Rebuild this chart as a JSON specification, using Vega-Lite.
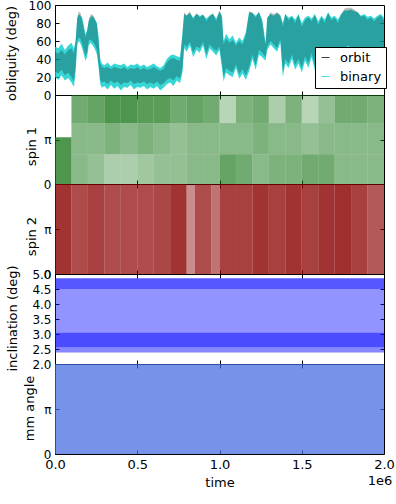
{
  "$schema": "https://vega.github.io/schema/vega-lite/v6.json",
  "padding": {"left": 4, "top": -2, "right": 0, "bottom": 0},
  "background": "white",
  "spacing": 0,
  "bounds": "flush",
  "datasets": {
    "obl": [
      {"time":0,"blo":20,"bhi":54,"olo":26,"ohi":48},{"time":20000,"blo":17,"bhi":52,"olo":24,"ohi":46},{"time":40000,"blo":22,"bhi":57,"olo":28,"ohi":50},{"time":60000,"blo":16,"bhi":50,"olo":22,"ohi":45},{"time":80000,"blo":19,"bhi":55,"olo":25,"ohi":50},{"time":100000,"blo":14,"bhi":58,"olo":20,"ohi":52},{"time":115000,"blo":9,"bhi":52,"olo":15,"ohi":46},{"time":125000,"blo":25,"bhi":60,"olo":30,"ohi":58},{"time":135000,"blo":55,"bhi":85,"olo":60,"ohi":86},{"time":145000,"blo":60,"bhi":90,"olo":64,"ohi":93},{"time":155000,"blo":57,"bhi":88,"olo":62,"ohi":91},{"time":165000,"blo":52,"bhi":86,"olo":57,"ohi":83},{"time":175000,"blo":45,"bhi":78,"olo":50,"ohi":74},{"time":185000,"blo":38,"bhi":68,"olo":43,"ohi":64},{"time":195000,"blo":42,"bhi":72,"olo":47,"ohi":70},{"time":205000,"blo":55,"bhi":82,"olo":60,"ohi":84},{"time":215000,"blo":58,"bhi":86,"olo":62,"ohi":89},{"time":225000,"blo":56,"bhi":88,"olo":60,"ohi":90},{"time":240000,"blo":52,"bhi":85,"olo":57,"ohi":86},{"time":255000,"blo":45,"bhi":80,"olo":50,"ohi":78},{"time":265000,"blo":30,"bhi":65,"olo":35,"ohi":60},{"time":275000,"blo":12,"bhi":40,"olo":17,"ohi":35},{"time":285000,"blo":8,"bhi":35,"olo":14,"ohi":31},{"time":300000,"blo":10,"bhi":33,"olo":15,"ohi":30},{"time":320000,"blo":6,"bhi":36,"olo":12,"ohi":31},{"time":340000,"blo":11,"bhi":32,"olo":16,"ohi":29},{"time":360000,"blo":7,"bhi":35,"olo":13,"ohi":31},{"time":380000,"blo":10,"bhi":34,"olo":15,"ohi":30},{"time":400000,"blo":5,"bhi":33,"olo":11,"ohi":29},{"time":420000,"blo":9,"bhi":35,"olo":14,"ohi":31},{"time":440000,"blo":8,"bhi":31,"olo":13,"ohi":28},{"time":460000,"blo":11,"bhi":34,"olo":16,"ohi":30},{"time":480000,"blo":6,"bhi":33,"olo":12,"ohi":29},{"time":500000,"blo":9,"bhi":35,"olo":14,"ohi":31},{"time":520000,"blo":8,"bhi":32,"olo":13,"ohi":28},{"time":540000,"blo":10,"bhi":34,"olo":15,"ohi":30},{"time":560000,"blo":6,"bhi":31,"olo":12,"ohi":28},{"time":580000,"blo":9,"bhi":33,"olo":14,"ohi":29},{"time":600000,"blo":7,"bhi":35,"olo":12,"ohi":31},{"time":620000,"blo":10,"bhi":32,"olo":15,"ohi":29},{"time":640000,"blo":5,"bhi":30,"olo":11,"ohi":27},{"time":660000,"blo":8,"bhi":33,"olo":13,"ohi":29},{"time":680000,"blo":12,"bhi":40,"olo":17,"ohi":36},{"time":700000,"blo":14,"bhi":44,"olo":19,"ohi":40},{"time":720000,"blo":10,"bhi":45,"olo":16,"ohi":41},{"time":740000,"blo":16,"bhi":43,"olo":21,"ohi":39},{"time":760000,"blo":13,"bhi":42,"olo":18,"ohi":38},{"time":775000,"blo":25,"bhi":70,"olo":30,"ohi":66},{"time":785000,"blo":52,"bhi":90,"olo":56,"ohi":92},{"time":800000,"blo":48,"bhi":88,"olo":53,"ohi":89},{"time":820000,"blo":55,"bhi":91,"olo":59,"ohi":93},{"time":840000,"blo":42,"bhi":86,"olo":47,"ohi":84},{"time":860000,"blo":50,"bhi":90,"olo":54,"ohi":91},{"time":880000,"blo":47,"bhi":88,"olo":52,"ohi":86},{"time":900000,"blo":55,"bhi":89,"olo":59,"ohi":90},{"time":920000,"blo":40,"bhi":85,"olo":45,"ohi":82},{"time":940000,"blo":52,"bhi":88,"olo":56,"ohi":88},{"time":960000,"blo":48,"bhi":90,"olo":52,"ohi":91},{"time":980000,"blo":44,"bhi":85,"olo":49,"ohi":82},{"time":1000000,"blo":50,"bhi":93,"olo":54,"ohi":94},{"time":1015000,"blo":30,"bhi":88,"olo":35,"ohi":86},{"time":1025000,"blo":15,"bhi":60,"olo":20,"ohi":56},{"time":1040000,"blo":25,"bhi":68,"olo":30,"ohi":63},{"time":1060000,"blo":22,"bhi":62,"olo":27,"ohi":58},{"time":1080000,"blo":20,"bhi":66,"olo":25,"ohi":61},{"time":1100000,"blo":30,"bhi":58,"olo":34,"ohi":55},{"time":1120000,"blo":18,"bhi":64,"olo":23,"ohi":60},{"time":1140000,"blo":24,"bhi":60,"olo":29,"ohi":56},{"time":1160000,"blo":17,"bhi":70,"olo":22,"ohi":66},{"time":1180000,"blo":26,"bhi":92,"olo":31,"ohi":93},{"time":1200000,"blo":40,"bhi":91,"olo":45,"ohi":92},{"time":1220000,"blo":28,"bhi":88,"olo":33,"ohi":86},{"time":1240000,"blo":45,"bhi":92,"olo":50,"ohi":93},{"time":1260000,"blo":42,"bhi":84,"olo":47,"ohi":80},{"time":1280000,"blo":38,"bhi":58,"olo":42,"ohi":55},{"time":1290000,"blo":50,"bhi":86,"olo":54,"ohi":85},{"time":1310000,"blo":56,"bhi":90,"olo":60,"ohi":92},{"time":1330000,"blo":52,"bhi":88,"olo":56,"ohi":90},{"time":1350000,"blo":48,"bhi":91,"olo":52,"ohi":92},{"time":1370000,"blo":58,"bhi":88,"olo":62,"ohi":89},{"time":1385000,"blo":20,"bhi":80,"olo":25,"ohi":76},{"time":1400000,"blo":35,"bhi":90,"olo":40,"ohi":90},{"time":1420000,"blo":30,"bhi":86,"olo":35,"ohi":83},{"time":1440000,"blo":40,"bhi":88,"olo":45,"ohi":87},{"time":1460000,"blo":28,"bhi":84,"olo":33,"ohi":80},{"time":1480000,"blo":35,"bhi":90,"olo":40,"ohi":89},{"time":1500000,"blo":25,"bhi":80,"olo":30,"ohi":76},{"time":1520000,"blo":38,"bhi":86,"olo":43,"ohi":83},{"time":1540000,"blo":30,"bhi":88,"olo":35,"ohi":86},{"time":1560000,"blo":42,"bhi":85,"olo":47,"ohi":82},{"time":1580000,"blo":27,"bhi":90,"olo":32,"ohi":89},{"time":1600000,"blo":35,"bhi":82,"olo":40,"ohi":78},{"time":1620000,"blo":40,"bhi":88,"olo":45,"ohi":86},{"time":1640000,"blo":30,"bhi":84,"olo":35,"ohi":80},{"time":1660000,"blo":25,"bhi":92,"olo":30,"ohi":91},{"time":1680000,"blo":38,"bhi":86,"olo":43,"ohi":83},{"time":1700000,"blo":32,"bhi":88,"olo":37,"ohi":86},{"time":1720000,"blo":28,"bhi":84,"olo":33,"ohi":80},{"time":1740000,"blo":40,"bhi":90,"olo":45,"ohi":90},{"time":1760000,"blo":45,"bhi":94,"olo":50,"ohi":96},{"time":1780000,"blo":50,"bhi":94,"olo":55,"ohi":97},{"time":1800000,"blo":48,"bhi":95,"olo":53,"ohi":97},{"time":1820000,"blo":46,"bhi":93,"olo":51,"ohi":95},{"time":1840000,"blo":40,"bhi":92,"olo":45,"ohi":92},{"time":1860000,"blo":35,"bhi":88,"olo":40,"ohi":87},{"time":1880000,"blo":30,"bhi":90,"olo":35,"ohi":88},{"time":1900000,"blo":28,"bhi":87,"olo":33,"ohi":84},{"time":1920000,"blo":25,"bhi":88,"olo":30,"ohi":86},{"time":1940000,"blo":32,"bhi":85,"olo":37,"ohi":82},{"time":1960000,"blo":24,"bhi":88,"olo":29,"ohi":86},{"time":1980000,"blo":30,"bhi":90,"olo":35,"ohi":88},{"time":2000000,"blo":28,"bhi":86,"olo":33,"ohi":83}
    ],
    "spin1": [
      {"t0":0,"t1":100000,"y0":0,"y1":3.3,"d":0.75},
      {"t0":100000,"t1":200000,"y0":4.3,"y1":6.2832,"d":0.6},{"t0":100000,"t1":200000,"y0":2.1,"y1":4.3,"d":0.5},{"t0":100000,"t1":200000,"y0":0,"y1":2.1,"d":0.5},
      {"t0":200000,"t1":300000,"y0":4.3,"y1":6.2832,"d":0.65},{"t0":200000,"t1":300000,"y0":2.1,"y1":4.3,"d":0.5},{"t0":200000,"t1":300000,"y0":0,"y1":2.1,"d":0.45},
      {"t0":300000,"t1":400000,"y0":4.3,"y1":6.2832,"d":0.75},{"t0":300000,"t1":400000,"y0":2.1,"y1":4.3,"d":0.55},{"t0":300000,"t1":400000,"y0":0,"y1":2.1,"d":0.35},
      {"t0":400000,"t1":500000,"y0":4.3,"y1":6.2832,"d":0.75},{"t0":400000,"t1":500000,"y0":2.1,"y1":4.3,"d":0.5},{"t0":400000,"t1":500000,"y0":0,"y1":2.1,"d":0.35},
      {"t0":500000,"t1":600000,"y0":4.3,"y1":6.2832,"d":0.7},{"t0":500000,"t1":600000,"y0":2.1,"y1":4.3,"d":0.55},{"t0":500000,"t1":600000,"y0":0,"y1":2.1,"d":0.4},
      {"t0":600000,"t1":700000,"y0":4.3,"y1":6.2832,"d":0.7},{"t0":600000,"t1":700000,"y0":2.1,"y1":4.3,"d":0.5},{"t0":600000,"t1":700000,"y0":0,"y1":2.1,"d":0.45},
      {"t0":700000,"t1":800000,"y0":4.3,"y1":6.2832,"d":0.6},{"t0":700000,"t1":800000,"y0":2.1,"y1":4.3,"d":0.45},{"t0":700000,"t1":800000,"y0":0,"y1":2.1,"d":0.45},
      {"t0":800000,"t1":900000,"y0":4.3,"y1":6.2832,"d":0.65},{"t0":800000,"t1":900000,"y0":2.1,"y1":4.3,"d":0.5},{"t0":800000,"t1":900000,"y0":0,"y1":2.1,"d":0.5},
      {"t0":900000,"t1":1000000,"y0":4.3,"y1":6.2832,"d":0.6},{"t0":900000,"t1":1000000,"y0":2.1,"y1":4.3,"d":0.5},{"t0":900000,"t1":1000000,"y0":0,"y1":2.1,"d":0.5},
      {"t0":1000000,"t1":1100000,"y0":4.3,"y1":6.2832,"d":0.3},{"t0":1000000,"t1":1100000,"y0":2.1,"y1":4.3,"d":0.5},{"t0":1000000,"t1":1100000,"y0":0,"y1":2.1,"d":0.65},
      {"t0":1100000,"t1":1200000,"y0":4.3,"y1":6.2832,"d":0.55},{"t0":1100000,"t1":1200000,"y0":2.1,"y1":4.3,"d":0.5},{"t0":1100000,"t1":1200000,"y0":0,"y1":2.1,"d":0.6},
      {"t0":1200000,"t1":1300000,"y0":4.3,"y1":6.2832,"d":0.6},{"t0":1200000,"t1":1300000,"y0":2.1,"y1":4.3,"d":0.55},{"t0":1200000,"t1":1300000,"y0":0,"y1":2.1,"d":0.5},
      {"t0":1300000,"t1":1400000,"y0":4.3,"y1":6.2832,"d":0.35},{"t0":1300000,"t1":1400000,"y0":2.1,"y1":4.3,"d":0.5},{"t0":1300000,"t1":1400000,"y0":0,"y1":2.1,"d":0.55},
      {"t0":1400000,"t1":1500000,"y0":4.3,"y1":6.2832,"d":0.55},{"t0":1400000,"t1":1500000,"y0":2.1,"y1":4.3,"d":0.5},{"t0":1400000,"t1":1500000,"y0":0,"y1":2.1,"d":0.55},
      {"t0":1500000,"t1":1600000,"y0":4.3,"y1":6.2832,"d":0.3},{"t0":1500000,"t1":1600000,"y0":2.1,"y1":4.3,"d":0.45},{"t0":1500000,"t1":1600000,"y0":0,"y1":2.1,"d":0.6},
      {"t0":1600000,"t1":1700000,"y0":4.3,"y1":6.2832,"d":0.45},{"t0":1600000,"t1":1700000,"y0":2.1,"y1":4.3,"d":0.5},{"t0":1600000,"t1":1700000,"y0":0,"y1":2.1,"d":0.6},
      {"t0":1700000,"t1":1800000,"y0":4.3,"y1":6.2832,"d":0.6},{"t0":1700000,"t1":1800000,"y0":2.1,"y1":4.3,"d":0.5},{"t0":1700000,"t1":1800000,"y0":0,"y1":2.1,"d":0.5},
      {"t0":1800000,"t1":1900000,"y0":4.3,"y1":6.2832,"d":0.6},{"t0":1800000,"t1":1900000,"y0":2.1,"y1":4.3,"d":0.5},{"t0":1800000,"t1":1900000,"y0":0,"y1":2.1,"d":0.5},
      {"t0":1900000,"t1":2000000,"y0":4.3,"y1":6.2832,"d":0.55},{"t0":1900000,"t1":2000000,"y0":2.1,"y1":4.3,"d":0.5},{"t0":1900000,"t1":2000000,"y0":0,"y1":2.1,"d":0.5}
    ],
    "spin2": [
      {"t0":0,"t1":100000,"d":0.8},{"t0":100000,"t1":200000,"d":0.7},{"t0":200000,"t1":300000,"d":0.75},{"t0":300000,"t1":400000,"d":0.7},{"t0":400000,"t1":500000,"d":0.7},{"t0":500000,"t1":600000,"d":0.7},{"t0":600000,"t1":700000,"d":0.72},{"t0":700000,"t1":800000,"d":0.8},{"t0":800000,"t1":850000,"d":0.45},{"t0":850000,"t1":950000,"d":0.7},{"t0":950000,"t1":1000000,"d":0.55},{"t0":1000000,"t1":1100000,"d":0.75},{"t0":1100000,"t1":1200000,"d":0.75},{"t0":1200000,"t1":1300000,"d":0.8},{"t0":1300000,"t1":1400000,"d":0.75},{"t0":1400000,"t1":1500000,"d":0.8},{"t0":1500000,"t1":1600000,"d":0.75},{"t0":1600000,"t1":1700000,"d":0.8},{"t0":1700000,"t1":1800000,"d":0.82},{"t0":1800000,"t1":1900000,"d":0.75},{"t0":1900000,"t1":2000000,"d":0.65}
    ],
    "incl": [
      {"t0":0,"t1":2000000,"y0":2.38,"y1":2.55,"d":0.5},{"t0":0,"t1":2000000,"y0":2.55,"y1":3.05,"d":0.75},{"t0":0,"t1":2000000,"y0":3.05,"y1":4.5,"d":0.45},{"t0":0,"t1":2000000,"y0":4.5,"y1":4.86,"d":0.7}
    ],
    "mm": [
      {"t0":0,"t1":2000000,"y0":0,"y1":6.2832,"d":0.72}
    ]
  },
  "config": {
    "font": "DejaVu Sans",
    "view": {"stroke": "black", "strokeWidth": 1},
    "axis": {"labelFontSize": 12, "titleFontSize": 13, "titleFontWeight": "normal", "labelColor": "black", "titleColor": "black", "tickColor": "black", "domainColor": "black", "grid": false, "tickSize": -4, "labelPadding": 8, "domain": false, "labelOverlap": false},
    "legend": {"labelFontSize": 13, "labelFont": "DejaVu Sans"}
  },
  "vconcat": [
    {
      "width": 329, "height": 90,
      "data": {"name": "obl"},
      "resolve": {"axis": {"x": "independent", "y": "independent"}},
      "layer": [
        {
          "mark": {"type": "area", "opacity": 0.78},
          "encoding": {
            "x": {"field": "time", "type": "quantitative", "scale": {"domain": [0, 2000000], "nice": false}, "axis": {"labels": false, "title": null, "values": [500000, 1000000, 1500000]}},
            "y": {"field": "blo", "type": "quantitative", "scale": {"domain": [0, 100], "nice": false}, "axis": {"values": [0,20,40,60,80,100], "title": "obliquity (deg)", "titleX": -44, "titleY": 48, "titleAngle": -90, "titleBaseline": "middle", "titleAlign": "center"}},
            "y2": {"field": "bhi"},
            "color": {"datum": "binary", "type": "nominal", "scale": {"domain": ["orbit", "binary"], "range": ["black", "#00CCCC"]},
              "legend": {"title": null, "orient": "none", "legendX": 260, "legendY": 42, "fillColor": "white", "strokeColor": "black", "padding": 4, "cornerRadius": 0, "symbolType": "M-1,-0.12H1V0.12H-1Z", "symbolSize": 64, "rowPadding": 5, "labelOffset": 8,
                "encode": {"symbols": {"update": {"opacity": {"value": 1}, "fillOpacity": {"value": 1}, "strokeWidth": {"value": 0}}}}}}
          }
        },
        {
          "mark": {"type": "area", "opacity": 0.25},
          "encoding": {
            "x": {"field": "time", "type": "quantitative", "axis": null},
            "y": {"field": "olo", "type": "quantitative", "axis": null},
            "y2": {"field": "ohi"},
            "color": {"datum": "orbit", "type": "nominal"}
          }
        },
        {
          "mark": {"type": "area", "opacity": 0},
          "encoding": {
            "x": {"field": "time", "type": "quantitative", "axis": {"orient": "top", "labels": false, "title": null, "values": [500000, 1000000, 1500000]}},
            "y": {"field": "blo", "type": "quantitative", "axis": {"orient": "right", "labels": false, "title": null, "values": [20, 40, 60, 80]}}
          }
        }
      ]
    },
    {
      "width": 329, "height": 89,
      "data": {"name": "spin1"},
      "resolve": {"axis": {"x": "independent", "y": "independent"}},
      "layer": [
        {
          "mark": {"type": "rect", "color": "#137313"},
          "encoding": {
            "x": {"field": "t0", "type": "quantitative", "scale": {"domain": [0, 2000000], "nice": false}, "axis": {"labels": false, "title": null, "values": [500000, 1000000, 1500000]}},
            "x2": {"field": "t1"},
            "y": {"field": "y0", "type": "quantitative", "scale": {"domain": [0, 6.2832], "nice": false, "zero": false}, "axis": {"values": [0, 3.14159], "labelExpr": "datum.value < 1 ? '0' : 'π'", "title": "spin 1", "titleX": -24, "titleY": 51, "titleAngle": -90, "titleBaseline": "middle", "titleAlign": "center"}},
            "y2": {"field": "y1"},
            "opacity": {"field": "d", "type": "quantitative", "scale": null, "legend": null}
          }
        },
        {
          "mark": {"type": "rect", "opacity": 0},
          "encoding": {
            "x": {"field": "t0", "type": "quantitative", "axis": {"orient": "top", "labels": false, "title": null, "values": [500000, 1000000, 1500000]}},
            "x2": {"field": "t1"},
            "y": {"field": "y0", "type": "quantitative", "axis": {"orient": "right", "labels": false, "title": null, "values": [3.14159]}},
            "y2": {"field": "y1"}
          }
        }
      ]
    },
    {
      "width": 329, "height": 90,
      "data": {"name": "spin2"},
      "resolve": {"axis": {"x": "independent", "y": "independent"}},
      "layer": [
        {
          "mark": {"type": "rect", "color": "#8B0000"},
          "encoding": {
            "x": {"field": "t0", "type": "quantitative", "scale": {"domain": [0, 2000000], "nice": false}, "axis": {"labels": false, "title": null, "values": [500000, 1000000, 1500000]}},
            "x2": {"field": "t1"},
            "y": {"datum": 0, "type": "quantitative", "scale": {"domain": [0, 6.2832], "nice": false}, "axis": {"values": [0, 3.14159], "labelExpr": "datum.value < 1 ? '0' : 'π'", "title": "spin 2", "titleX": -24, "titleY": 52, "titleAngle": -90, "titleBaseline": "middle", "titleAlign": "center"}},
            "y2": {"datum": 6.2832},
            "opacity": {"field": "d", "type": "quantitative", "scale": null, "legend": null}
          }
        },
        {
          "mark": {"type": "rect", "opacity": 0},
          "encoding": {
            "x": {"field": "t0", "type": "quantitative", "axis": {"orient": "top", "labels": false, "title": null, "values": [500000, 1000000, 1500000]}},
            "x2": {"field": "t1"},
            "y": {"datum": 0, "type": "quantitative", "axis": {"orient": "right", "labels": false, "title": null, "values": [3.14159]}},
            "y2": {"datum": 6.2832}
          }
        }
      ]
    },
    {
      "width": 329, "height": 90,
      "data": {"name": "incl"},
      "resolve": {"axis": {"x": "independent", "y": "independent"}},
      "layer": [
        {
          "mark": {"type": "rect", "color": "#1010FF"},
          "encoding": {
            "x": {"field": "t0", "type": "quantitative", "scale": {"domain": [0, 2000000], "nice": false}, "axis": {"labels": false, "title": null, "values": [500000, 1000000, 1500000]}},
            "x2": {"field": "t1"},
            "y": {"field": "y0", "type": "quantitative", "scale": {"domain": [2, 5], "nice": false, "zero": false}, "axis": {"values": [2, 2.5, 3, 3.5, 4, 4.5, 5], "format": ".1f", "title": "inclination (deg)", "titleX": -43, "titleY": 44, "titleAngle": -90, "titleBaseline": "middle", "titleAlign": "center"}},
            "y2": {"field": "y1"},
            "opacity": {"field": "d", "type": "quantitative", "scale": null, "legend": null}
          }
        },
        {
          "mark": {"type": "rect", "opacity": 0},
          "encoding": {
            "x": {"field": "t0", "type": "quantitative", "axis": {"orient": "top", "labels": false, "title": null, "values": [500000, 1000000, 1500000]}},
            "x2": {"field": "t1"},
            "y": {"field": "y0", "type": "quantitative", "axis": {"orient": "right", "labels": false, "title": null, "values": [2.5, 3, 3.5, 4, 4.5]}},
            "y2": {"field": "y1"}
          }
        }
      ]
    },
    {
      "width": 329, "height": 90,
      "data": {"name": "mm"},
      "title": {"text": "1e6", "orient": "bottom", "anchor": "end", "fontSize": 13, "fontWeight": "normal", "font": "DejaVu Sans", "offset": -14, "dx": -2},
      "resolve": {"axis": {"x": "independent", "y": "independent"}},
      "layer": [
        {
          "mark": {"type": "rect", "color": "#4169E1"},
          "encoding": {
            "x": {"field": "t0", "type": "quantitative", "scale": {"domain": [0, 2000000], "nice": false}, "axis": {"values": [0, 500000, 1000000, 1500000, 2000000], "labelExpr": "format(datum.value / 1000000, '.1f')", "labelFlush": false, "labelFontSize": 13, "title": "time", "titlePadding": 5}},
            "x2": {"field": "t1"},
            "y": {"field": "y0", "type": "quantitative", "scale": {"domain": [0, 6.2832], "nice": false, "zero": false}, "axis": {"values": [0, 3.14159], "labelExpr": "datum.value < 1 ? '0' : 'π'", "title": "mm angle", "titleX": -26, "titleY": 44, "titleAngle": -90, "titleBaseline": "middle", "titleAlign": "center"}},
            "y2": {"field": "y1"},
            "opacity": {"field": "d", "type": "quantitative", "scale": null, "legend": null}
          }
        },
        {
          "mark": {"type": "rect", "opacity": 0},
          "encoding": {
            "x": {"field": "t0", "type": "quantitative", "axis": {"orient": "top", "labels": false, "title": null, "values": [500000, 1000000, 1500000]}},
            "x2": {"field": "t1"},
            "y": {"field": "y0", "type": "quantitative", "axis": {"orient": "right", "labels": false, "title": null, "values": [3.14159]}},
            "y2": {"field": "y1"}
          }
        }
      ]
    }
  ]
}
